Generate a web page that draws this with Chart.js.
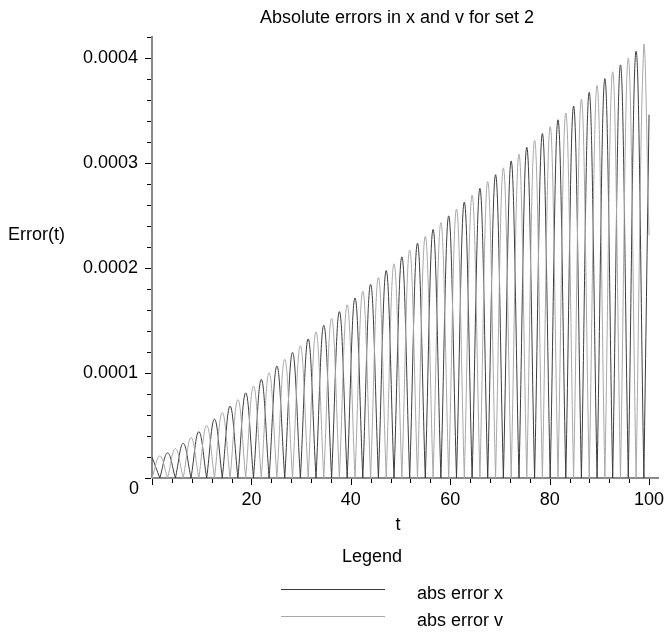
<!DOCTYPE html>
<html>
<head>
<meta charset="utf-8">
<title>Absolute errors in x and v for set 2</title>
<script src="https://cdn.jsdelivr.net/npm/chart.js@4.4.0/dist/chart.umd.min.js"></script>
<style>
  html, body { margin: 0; padding: 0; background: #fff; }
  #wrap { width: 666px; height: 632px; }
</style>
</head>
<body>
<div id="wrap"><canvas id="errChart" width="666" height="632"></canvas></div>
<script>
// peak times of each lobe (t) and the peak heights, in units of 1e-6
var xPeakT = [0, 3.14, 6.28, 9.42, 12.57, 15.71, 18.85, 21.99, 25.13, 28.27, 31.42, 34.56, 37.70, 40.84, 43.98, 47.12,
  50.27, 53.41, 56.55, 59.69, 62.83, 65.97, 69.12, 72.26, 75.40, 78.54, 81.68, 84.82, 87.96, 91.11, 94.25, 97.39];
var xPeak = [20.0, 23.9, 33.0, 44.1, 56.1, 68.5, 81.1, 93.9, 106.7, 119.6, 132.5, 145.5, 158.5, 171.5, 184.5, 197.5,
  210.6, 223.6, 236.7, 249.7, 262.8, 275.8, 288.9, 302.0, 315.0, 328.1, 341.2, 354.3, 367.4, 380.4, 393.5, 406.6];
var vPeakT = [1.57, 4.71, 7.85, 11.00, 14.14, 17.28, 20.42, 23.56, 26.70, 29.85, 32.99, 36.13, 39.27, 42.41, 45.55, 48.69,
  51.84, 54.98, 58.12, 61.26, 64.40, 67.54, 70.69, 73.83, 76.97, 80.11, 83.25, 86.39, 89.54, 92.68, 95.82, 98.96];
var vPeak = [21.0, 28.0, 38.4, 50.0, 62.3, 74.8, 87.5, 100.3, 113.1, 126.0, 139.0, 152.0, 165.0, 178.0, 191.0, 204.0,
  217.1, 230.1, 243.2, 256.2, 269.3, 282.4, 295.4, 308.5, 321.6, 334.7, 347.7, 360.8, 373.9, 387.0, 400.1, 413.1];
// last sample at t = 100
var endT = 100;
var xEnd = 346;
var vEnd = 231;

var yTicks = [0.0001, 0.0002, 0.0003, 0.0004];
var yTickLabels = ["0.0001", "0.0002", "0.0003", "0.0004"];
var xTicks = [20, 40, 60, 80, 100];
var xTickLabels = ["20", "40", "60", "80", "100"];

var FONT = '18px "Liberation Sans", Arial, sans-serif';

// one series zeroes where the other one peaks; troughs go in twice so the spline keeps a sharp corner
function lobePoints(peakT, peakVal, zeroT, lastT, lastVal) {
  var pts = [];
  peakT.forEach(function (t, i) { pts.push({ x: t, y: peakVal[i] * 1e-6 }); });
  zeroT.forEach(function (t) { pts.push({ x: t, y: 0 }, { x: t, y: 0 }); });
  pts.push({ x: lastT, y: lastVal * 1e-6 });
  pts.sort(function (a, b) { return a.x - b.x; });
  return pts;
}

// axes, ticks and all the text are drawn by hand, Maple style
var mapleAxes = {
  id: "mapleAxes",
  beforeDatasetsDraw: function (chart) {
    var ctx = chart.ctx;
    var xs = chart.scales.x, ys = chart.scales.y;
    var x0 = xs.getPixelForValue(0), y0 = ys.getPixelForValue(0);
    ctx.save();
    ctx.strokeStyle = "#8a8a8a";
    ctx.lineWidth = 2;
    ctx.beginPath();
    ctx.moveTo(x0, y0);
    ctx.lineTo(x0, chart.chartArea.top);
    ctx.moveTo(x0, y0);
    ctx.lineTo(chart.chartArea.right, y0);
    ctx.stroke();

    ctx.strokeStyle = "#000";
    ctx.lineWidth = 1;
    ctx.beginPath();
    var v, p, len;
    for (var k = 0; k <= 21; k++) {
      v = k * 0.00002;
      p = Math.round(ys.getPixelForValue(v)) + 0.5;
      len = (k % 5 === 0) ? 6 : 4;
      ctx.moveTo(x0 - 1 - len, p);
      ctx.lineTo(x0 - 1, p);
    }
    for (var j = 0; j <= 25; j++) {
      v = j * 4;
      p = Math.round(xs.getPixelForValue(v)) + 0.5;
      len = (j % 5 === 0) ? 6 : 4;
      ctx.moveTo(p, y0 + 1);
      ctx.lineTo(p, y0 + 1 + len);
    }
    ctx.stroke();
    ctx.restore();
  },
  afterDraw: function (chart) {
    var ctx = chart.ctx;
    var xs = chart.scales.x, ys = chart.scales.y;
    var y0 = ys.getPixelForValue(0);
    ctx.save();
    ctx.fillStyle = "#000";
    ctx.font = FONT;
    ctx.textBaseline = "middle";

    ctx.textAlign = "right";
    yTicks.forEach(function (v, i) {
      ctx.fillText(yTickLabels[i], 138, ys.getPixelForValue(v));
    });
    ctx.textAlign = "center";
    xTicks.forEach(function (v, i) {
      ctx.fillText(xTickLabels[i], xs.getPixelForValue(v), y0 + 22);
    });
    ctx.fillText("0", 134, y0 + 11);

    ctx.fillText("Absolute errors in x and v for set 2", 397, 18);
    ctx.fillText("t", 398, 525);
    ctx.fillText("Legend", 372, 557);
    ctx.textAlign = "left";
    ctx.fillText("Error(t)", 8, 235);

    // legend
    var rows = [
      { label: "abs error x", color: "#3c3c3c", y: 589 },
      { label: "abs error v", color: "#a8a8a8", y: 616 }
    ];
    rows.forEach(function (r) {
      ctx.strokeStyle = r.color;
      ctx.lineWidth = 1;
      ctx.beginPath();
      ctx.moveTo(281, r.y + 0.5);
      ctx.lineTo(385, r.y + 0.5);
      ctx.stroke();
      ctx.fillText(r.label, 417, r.y + 5);
    });
    ctx.restore();
  }
};

var ctx = document.getElementById("errChart").getContext("2d");
var chart = new Chart(ctx, {
  type: "line",
  data: {
    datasets: [
      {
        label: "abs error x",
        data: lobePoints(xPeakT, xPeak, vPeakT, endT, xEnd),
        borderColor: "#3c3c3c",
        borderWidth: 1,
        pointRadius: 0,
        tension: 0.4,
        order: 1
      },
      {
        label: "abs error v",
        data: lobePoints(vPeakT, vPeak, [0].concat(xPeakT.slice(1)), endT, vEnd),
        borderColor: "#a8a8a8",
        borderWidth: 1,
        pointRadius: 0,
        tension: 0.4,
        order: 0
      }
    ]
  },
  options: {
    responsive: false,
    animation: false,
    devicePixelRatio: 1,
    layout: { padding: { left: 152, right: 7, top: 36, bottom: 154 } },
    plugins: { legend: { display: false }, title: { display: false }, tooltip: { enabled: false } },
    scales: {
      x: { type: "linear", min: 0, max: 102, display: false },
      y: { type: "linear", min: 0, max: 0.000421, display: false }
    }
  },
  plugins: [mapleAxes]
});
</script>
</body>
</html>
